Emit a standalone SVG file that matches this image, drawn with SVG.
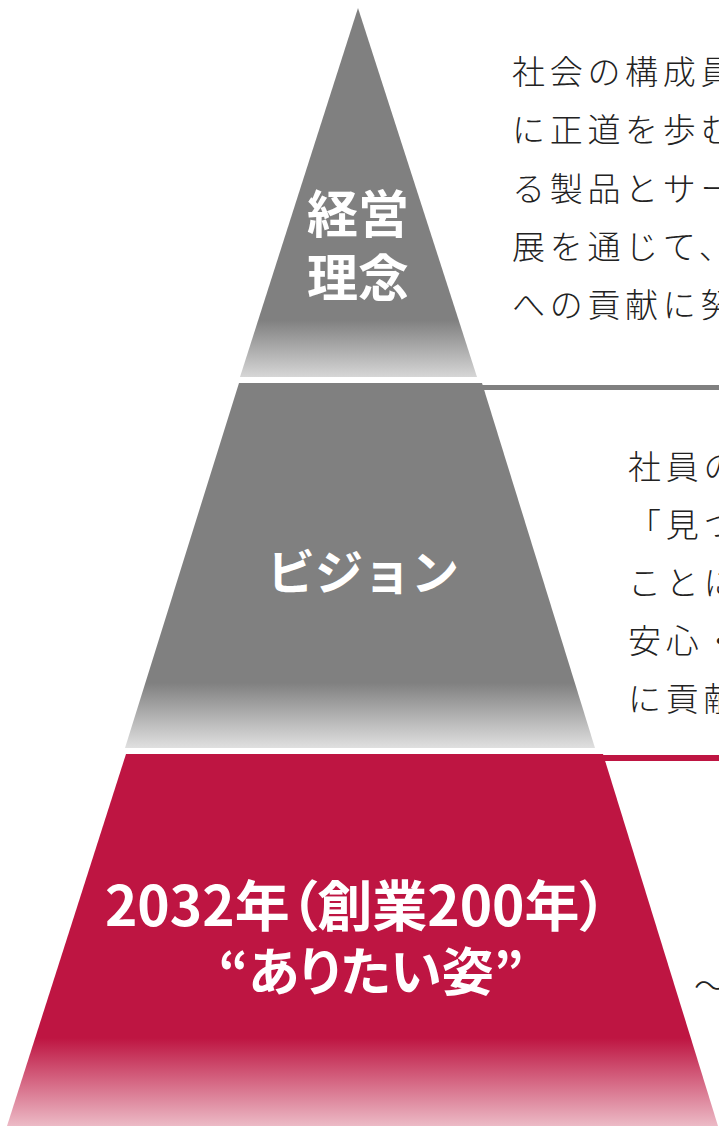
<svg xmlns="http://www.w3.org/2000/svg" width="719" height="1126" viewBox="0 0 719 1126">
  <style>
    .lbl { font-family: "Noto Sans CJK JP", "Noto Sans", sans-serif; font-weight: 700; fill: #ffffff; }
    .palt { font-feature-settings: "palt" 1; }
    .body { font-family: "Noto Sans CJK JP", "Noto Sans", sans-serif; font-weight: 300; font-size: 33px; letter-spacing: 4.7px; fill: #222222; }
  </style>
  <defs>
    <linearGradient id="g1" gradientUnits="userSpaceOnUse" x1="0" y1="320" x2="0" y2="377">
      <stop offset="0" stop-color="#808080"/>
      <stop offset="1" stop-color="#d6d6d6"/>
    </linearGradient>
    <linearGradient id="g2" gradientUnits="userSpaceOnUse" x1="0" y1="683" x2="0" y2="748">
      <stop offset="0" stop-color="#808080"/>
      <stop offset="1" stop-color="#e0e0e0"/>
    </linearGradient>
    <linearGradient id="g3" gradientUnits="userSpaceOnUse" x1="0" y1="1038" x2="0" y2="1126">
      <stop offset="0" stop-color="#be1542"/>
      <stop offset="1" stop-color="#ecbac6"/>
    </linearGradient>
  </defs>
  <g id="connectors">
    <rect x="480" y="385" width="239" height="5" fill="#808080"/>
    <rect x="126" y="755" width="593" height="6" fill="#be1542"/>
  </g>
  <g id="node-philosophy">
    <polygon points="358,8 477,377 240,377" fill="url(#g1)"/>
    <text class="lbl" font-size="51" text-anchor="middle"><tspan x="358" y="233">経営</tspan><tspan x="358" y="297">理念</tspan></text>
    <text class="body" x="512" y="84">社会の構成員</text>
    <text class="body" x="512" y="142">に正道を歩む</text>
    <text class="body" x="512" y="201">る製品とサー</text>
    <text class="body" x="512" y="259">展を通じて、</text>
    <text class="body" x="512" y="317">への貢献に努</text>
  </g>
  <g id="node-vision">
    <polygon points="239,383 482,383 595,748 125,748" fill="url(#g2)"/>
    <text class="lbl" font-size="48" x="363" y="590" text-anchor="middle">ビジョン</text>
    <text class="body" x="628" y="479">社員の</text>
    <text class="body" x="628" y="537">「見つ</text>
    <text class="body" x="628" y="595">ことに</text>
    <text class="body" x="628" y="653">安心・</text>
    <text class="body" x="628" y="711">に貢献</text>
  </g>
  <g id="node-2032">
    <polygon points="126,754 603,754 718,1126 7,1126" fill="url(#g3)"/>
    <text class="lbl palt" text-anchor="middle"><tspan font-size="55" x="356" y="926">2032年（創業200年）</tspan><tspan font-size="52" x="371" y="991">“ありたい姿”</tspan></text>
    <text class="body" x="694" y="998">〜</text>
  </g>
</svg>
